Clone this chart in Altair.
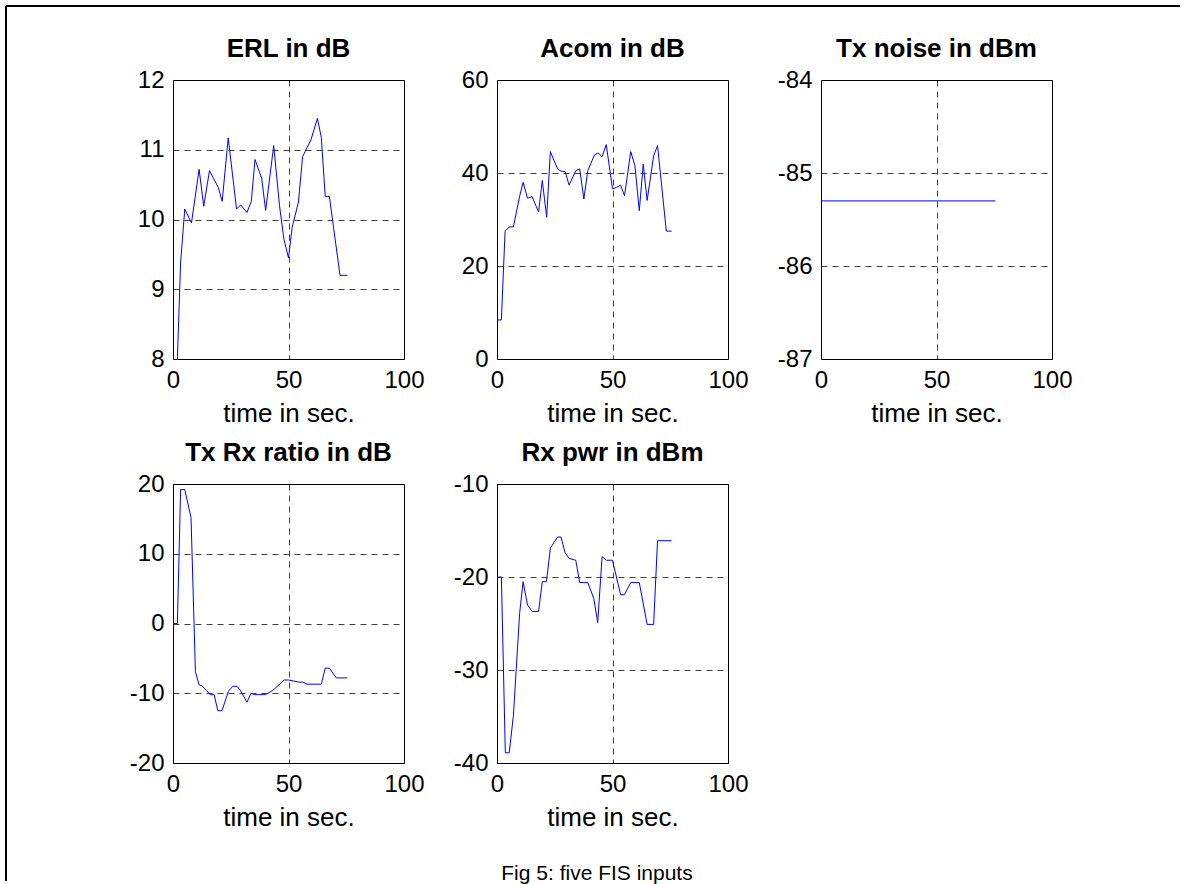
import altair as alt
import pandas as pd

FONT = "Liberation Sans"

# ---- data ----
erl_t = [1.9, 3.3, 5.1, 8.0, 11.3, 13.3, 15.8, 19.6, 21.3, 23.9, 27.5, 29.3, 32.0, 33.9, 35.5,
         38.4, 40.1, 43.6, 46.1, 48.0, 50.0, 51.6, 54.3, 56.1, 59.7, 62.5, 64.2, 65.9, 67.7, 72.3, 75.5]
erl_v = [8.0, 9.39, 10.15, 9.95, 10.72, 10.19, 10.70, 10.46, 10.26, 11.17, 10.15, 10.21, 10.10, 10.26, 10.86,
         10.59, 10.13, 11.06, 10.20, 9.72, 9.45, 9.89, 10.25, 10.90, 11.14, 11.45, 11.18, 10.33, 10.33, 9.20, 9.20]

acom_t = [0, 1.9, 3.5, 5.3, 7.1, 9.8, 11.3, 13.2, 15.2, 18.0, 19.6, 21.5, 23.1, 26.2, 27.7, 29.5, 31.2, 34.1,
          35.8, 37.6, 39.3, 42.2, 43.8, 45.5, 47.3, 50.0, 51.7, 53.5, 55.2, 57.9, 59.7, 61.6, 63.3, 65.0,
          67.8, 69.5, 73.3, 75.6]
acom_v = [8.4, 8.4, 27.5, 28.4, 28.4, 35.0, 38.0, 34.6, 34.9, 31.6, 38.4, 30.5, 44.6, 40.9, 40.4, 40.3, 37.4, 40.5,
          40.9, 34.4, 40.5, 43.9, 44.3, 43.5, 46.1, 36.6, 36.9, 37.4, 35.1, 44.6, 41.6, 31.9, 41.9, 34.1,
          43.7, 45.9, 27.5, 27.5]

txn_t = [0, 75.5]
txn_v = [-85.3, -85.3]

txrx_t = [0, 1.9, 3.3, 5.1, 7.8, 9.7, 11.3, 12.8, 14.5, 16.1, 17.8, 19.4, 21.2, 24.0, 25.9, 27.7, 29.4, 32.0,
          33.8, 35.4, 40.0, 43.2, 48.1, 50.0, 54.5, 56.2, 58.0, 64.2, 65.9, 67.7, 70.7, 75.5]
txrx_v = [0, 0, 19.2, 19.2, 15.2, -6.9, -8.8, -9.0, -9.6, -10.2, -10.2, -12.5, -12.5, -9.7, -9.0, -9.0, -9.7, -11.3,
          -10.0, -10.2, -10.2, -9.6, -8.1, -8.1, -8.4, -8.4, -8.7, -8.7, -6.4, -6.4, -7.8, -7.8]

rx_t = [0, 1.9, 3.6, 5.3, 7.1, 9.8, 11.3, 13.2, 15.2, 18.0, 19.6, 21.4, 23.1, 26.2, 27.7, 29.5, 31.2, 34.1,
        35.8, 39.3, 41.9, 43.6, 45.5, 47.3, 50.0, 53.5, 55.2, 57.9, 61.6, 65.0, 67.8, 69.5, 75.6]
rx_v = [-20, -20, -38.9, -38.9, -34.9, -23.9, -20.5, -23.0, -23.7, -23.7, -20.5, -20.5, -16.9, -15.7, -15.7, -17.4,
        -18.0, -18.2, -20.6, -20.6, -22.3, -24.9, -17.8, -18.2, -18.2, -21.9, -21.9, -20.6, -20.6, -25.1, -25.1,
        -16.1, -16.1]

x_ticks = [0, 50, 100]
titles = ["ERL in dB", "Acom in dB", "Tx noise in dBm", "Tx Rx ratio in dB", "Rx pwr in dBm"]
y_ticks = [[8, 9, 10, 11, 12], [0, 20, 40, 60], [-87, -86, -85, -84], [-20, -10, 0, 10, 20], [-40, -30, -20, -10]]
caption = "Fig 5: five FIS inputs"

W, H = 231, 279
LABEL_EXPR = "datum.value < 0 ? '-' + format(abs(datum.value), 'd') : format(datum.value, 'd')"

one = alt.Data(values=[{"k": 1}])
series = [(erl_t, erl_v), (acom_t, acom_v), (txn_t, txn_v), (txrx_t, txrx_v), (rx_t, rx_v)]

charts = []
for i, (tt, vv) in enumerate(series):
    yt = y_ticks[i]
    df = pd.DataFrame({"t": tt, "v": vv})
    x = alt.X("t:Q", scale=alt.Scale(domain=[0, 100], nice=False, zero=False),
              axis=alt.Axis(values=x_ticks, title="time in sec.", labelExpr=LABEL_EXPR))
    y = alt.Y("v:Q", scale=alt.Scale(domain=[yt[0], yt[-1]], nice=False, zero=False),
              axis=alt.Axis(values=yt, title=None, labelExpr=LABEL_EXPR))
    line = alt.Chart(df).mark_line(color="#0000ff", strokeWidth=1, clip=True).encode(x=x, y=y)
    ttl = alt.Chart(one).mark_text(fontSize=26, fontWeight="bold", font=FONT, color="black",
                                   align="center", baseline="alphabetic").encode(
        x=alt.value(W / 2), y=alt.value(-23), text=alt.value(titles[i]))
    layers = [line, ttl]
    if i == 0:
        top_rule = alt.Chart(one).mark_rule(color="black", strokeWidth=2).encode(
            x=alt.value(-167), x2=alt.value(1007), y=alt.value(-74))
        left_rule = alt.Chart(one).mark_rule(color="black", strokeWidth=2).encode(
            x=alt.value(-167), y=alt.value(-74), y2=alt.value(801))
        layers += [top_rule, left_rule]
    if i == 3:
        cap = alt.Chart(one).mark_text(fontSize=21, font=FONT, color="black", align="center",
                                       baseline="alphabetic").encode(
            x=alt.value(424), y=alt.value(396), text=alt.value(caption))
        layers.append(cap)
    charts.append(alt.layer(*layers).properties(width=W, height=H))

chart = alt.concat(*charts, columns=3, spacing={"row": 125, "column": 93}, bounds="flush").properties(
    padding={"left": 4, "top": 4, "right": 0, "bottom": 0}
).configure_view(
    stroke="black", strokeWidth=1
).configure_axis(
    grid=True, gridColor="black", gridOpacity=0.75, gridDash=[6, 5], gridWidth=1,
    domain=False, ticks=False,
    labelFont=FONT, labelFontSize=24, labelColor="black", labelPadding=9,
    labelOverlap=False, labelBound=False, labelFlush=False,
    titleFont=FONT, titleFontSize=26, titleFontWeight="normal", titleColor="black", titlePadding=8,
)

chart.save("out.html", embed_options={"renderer": "svg", "actions": False})
